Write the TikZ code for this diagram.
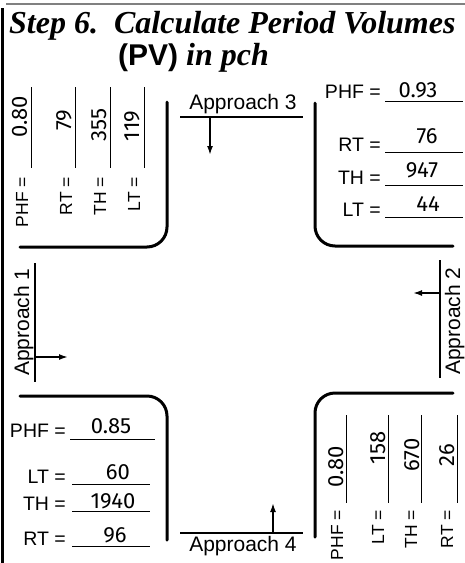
\documentclass[tikz,border=0pt]{standalone}
\usepackage{fontspec}
\setmainfont{Liberation Serif}
\newfontfamily\labelfont{Liberation Sans}
\newfontfamily\titlesans{Liberation Sans}
\newfontfamily\handfont{Fira Sans}
\usetikzlibrary{arrows.meta}
\begin{document}
\begin{tikzpicture}[x=1pt,y=-1pt,
  curb/.style={line width=3pt, line cap=round, rounded corners=20pt},
  appline/.style={line width=1.4pt},
  uline/.style={line width=0.9pt},
  arr/.style={line width=1.7pt, -{Latex[length=9pt,width=6pt]}},
  applab/.style={font=\labelfont\fontsize{21}{21}\selectfont, inner sep=0},
  lab/.style={font=\labelfont\fontsize{19.5}{19.5}\selectfont, inner sep=0},
  rlab/.style={font=\labelfont\fontsize{17.5}{17.5}\selectfont, inner sep=0, rotate=90, anchor=base east},
  val/.style={font=\handfont\fontsize{22}{22}\selectfont, inner sep=0, anchor=base},
  rval/.style={font=\handfont\fontsize{22}{22}\selectfont, inner sep=0, anchor=base, rotate=90}]
\useasboundingbox (0,0) rectangle (465,563);
% frame
\draw[line width=2pt, gray] (6,4) -- (465,4);
\draw[line width=3pt] (2,8) -- (2,563);
% title
\node[anchor=base west, inner sep=0, font=\bfseries\itshape\fontsize{32}{32}\selectfont] (t1) at (9,33) {Step 6.\ \ Calculate Period Volumes};
\node[anchor=base west, inner sep=0, font=\bfseries\itshape\fontsize{32}{32}\selectfont] (t2) at (118,65) {{\titlesans\upshape\fontsize{30}{30}\selectfont (PV)} in pch};
% curbs
\draw[curb] (20,247) -- (167,247) -- (167,102);
\draw[curb] (453,246) -- (315,246) -- (315,103);
\draw[curb] (20,396) -- (167,396) -- (167,540);
\draw[curb] (453,393) -- (315,393) -- (315,537);
% Approach 3
\node[applab, anchor=base] (a3) at (243,109) {Approach 3};
\coordinate (a3l) at (180,117); \coordinate (a3r) at (303,117);
\draw[appline] (a3l) -- (a3r);
\coordinate (a3s) at (210,117); \coordinate (a3e) at (210,155);
\draw[arr] (a3s) -- (a3e);
% Approach 1
\node[applab, rotate=90, anchor=base] (a1) at (29,322) {Approach 1};
\coordinate (a1t) at (35,263); \coordinate (a1b) at (35,382);
\draw[appline] (a1t) -- (a1b);
\coordinate (a1s) at (35,357); \coordinate (a1e) at (68,357);
\draw[arr] (a1s) -- (a1e);
% Approach 2
\node[applab, rotate=90, anchor=base] (a2) at (460,321) {Approach 2};
\coordinate (a2t) at (440,260); \coordinate (a2b) at (440,378);
\draw[appline] (a2t) -- (a2b);
\coordinate (a2s) at (440,293); \coordinate (a2e) at (413,293);
\draw[arr] (a2s) -- (a2e);
% Approach 4
\node[applab, anchor=base] (a4) at (243,551) {Approach 4};
\coordinate (a4l) at (180,533); \coordinate (a4r) at (303,533);
\draw[appline] (a4l) -- (a4r);
\coordinate (a4s) at (273,533); \coordinate (a4e) at (273,503);
\draw[arr] (a4s) -- (a4e);
% NE block
\node[lab, anchor=base east] (nep) at (381,98) {PHF =};
\node[lab, anchor=base east] (ner) at (381,151) {RT =};
\node[lab, anchor=base east] (net) at (381,184) {TH =};
\node[lab, anchor=base east] (nel) at (381,216) {LT =};
\draw[uline] (385,101) -- (463,101);
\draw[uline] (385,152) -- (463,152);
\draw[uline] (385,185) -- (463,185);
\draw[uline] (385,217) -- (463,217);
\node[val] (nepv) at (418,97) {0.93};
\node[val] (nerv) at (427,143) {76};
\node[val] (netv) at (422,177) {947};
\node[val] (nelv) at (428,211) {44};
% SW block
\node[lab, anchor=base east] (swp) at (66,437) {PHF =};
\node[lab, anchor=base east] (swl) at (66,483) {LT =};
\node[lab, anchor=base east] (swt) at (66,510) {TH =};
\node[lab, anchor=base east] (swr) at (66,545) {RT =};
\draw[uline] (70,439) -- (155,439);
\draw[uline] (72,484) -- (150,484);
\draw[uline] (72,511) -- (150,511);
\draw[uline] (72,546) -- (150,546);
\node[val] (swpv) at (111,433) {0.85};
\node[val] (swlv) at (118,479) {60};
\node[val] (swtv) at (113,508) {1940};
\node[val] (swrv) at (115,542) {96};
% NW block (rotated)
\node[rlab] (nwp) at (28,177) {PHF =};
\node[rlab] (nwr) at (72,177) {RT =};
\node[rlab] (nwt) at (106,177) {TH =};
\node[rlab] (nwl) at (140,177) {LT =};
\draw[uline] (31,87) -- (31,168);
\draw[uline] (75,87) -- (75,168);
\draw[uline] (110,87) -- (110,168);
\draw[uline] (144,87) -- (144,168);
\node[rval] (nwpv) at (27,117) {0.80};
\node[rval] (nwrv) at (71,120) {79};
\node[rval] (nwtv) at (106,125) {355};
\node[rval] (nwlv) at (139,126) {119};
% SE block (rotated)
\node[rlab] (sep) at (343,510) {PHF =};
\node[rlab] (sel) at (384,510) {LT =};
\node[rlab] (set) at (417,510) {TH =};
\node[rlab] (ser) at (453,510) {RT =};
\draw[uline] (346,415) -- (346,503);
\draw[uline] (388,415) -- (388,503);
\draw[uline] (421,415) -- (421,503);
\draw[uline] (457,415) -- (457,503);
\node[rval] (sepv) at (343,467) {0.80};
\node[rval] (selv) at (385,448) {158};
\node[rval] (setv) at (419,455) {670};
\node[rval] (serv) at (454,455) {26};
\end{tikzpicture}
\end{document}
